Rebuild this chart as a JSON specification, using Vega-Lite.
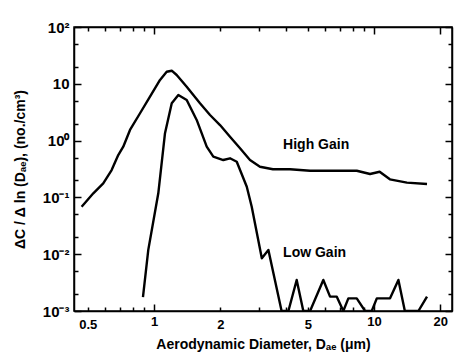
{
  "$schema": "https://vega.github.io/schema/vega-lite/v6.json",
  "width": 378,
  "height": 284,
  "autosize": {"type": "none"},
  "padding": {"left": 74, "top": 27, "right": 3, "bottom": 45},
  "background": "white",
  "config": {
    "view": {"stroke": "black", "strokeWidth": 1.5},
    "axis": {
      "domainColor": "black",
      "domainWidth": 1.5,
      "tickColor": "black",
      "tickWidth": 1.5,
      "grid": false,
      "labelFont": "Liberation Sans",
      "labelFontWeight": "bold",
      "labelFontSize": 13,
      "labelColor": "black",
      "titleFont": "Liberation Sans",
      "titleFontWeight": "bold",
      "titleFontSize": 14,
      "titleColor": "black"
    }
  },
  "datasets": {
    "curves": [
      {"series": "High", "d": 0.469, "c": 0.0686},
      {"series": "High", "d": 0.530, "c": 0.118},
      {"series": "High", "d": 0.588, "c": 0.177},
      {"series": "High", "d": 0.642, "c": 0.303},
      {"series": "High", "d": 0.688, "c": 0.557},
      {"series": "High", "d": 0.725, "c": 0.781},
      {"series": "High", "d": 0.778, "c": 1.54},
      {"series": "High", "d": 0.864, "c": 3.03},
      {"series": "High", "d": 0.959, "c": 5.93},
      {"series": "High", "d": 1.065, "c": 11.7},
      {"series": "High", "d": 1.142, "c": 16.3},
      {"series": "High", "d": 1.204, "c": 17.0},
      {"series": "High", "d": 1.268, "c": 14.3},
      {"series": "High", "d": 1.408, "c": 8.89},
      {"series": "High", "d": 1.618, "c": 4.54},
      {"series": "High", "d": 1.797, "c": 2.82},
      {"series": "High", "d": 1.995, "c": 1.88},
      {"series": "High", "d": 2.215, "c": 1.17},
      {"series": "High", "d": 2.46, "c": 0.731},
      {"series": "High", "d": 2.73, "c": 0.455},
      {"series": "High", "d": 3.03, "c": 0.347},
      {"series": "High", "d": 3.47, "c": 0.313},
      {"series": "High", "d": 4.15, "c": 0.313},
      {"series": "High", "d": 5.12, "c": 0.295},
      {"series": "High", "d": 6.31, "c": 0.295},
      {"series": "High", "d": 8.34, "c": 0.295},
      {"series": "High", "d": 9.59, "c": 0.258},
      {"series": "High", "d": 10.6, "c": 0.283},
      {"series": "High", "d": 11.8, "c": 0.208},
      {"series": "High", "d": 14.1, "c": 0.182},
      {"series": "High", "d": 17.4, "c": 0.172},
      {"series": "Low", "d": 0.891, "c": 0.00176},
      {"series": "Low", "d": 0.942, "c": 0.0119},
      {"series": "Low", "d": 1.046, "c": 0.118},
      {"series": "Low", "d": 1.122, "c": 1.35},
      {"series": "Low", "d": 1.204, "c": 4.54},
      {"series": "Low", "d": 1.29, "c": 6.35},
      {"series": "Low", "d": 1.408, "c": 5.19},
      {"series": "Low", "d": 1.563, "c": 2.31},
      {"series": "Low", "d": 1.736, "c": 0.781},
      {"series": "Low", "d": 1.86, "c": 0.521},
      {"series": "Low", "d": 2.065, "c": 0.455},
      {"series": "Low", "d": 2.215, "c": 0.488},
      {"series": "Low", "d": 2.377, "c": 0.425},
      {"series": "Low", "d": 2.64, "c": 0.154},
      {"series": "Low", "d": 2.78, "c": 0.0686},
      {"series": "Low", "d": 3.09, "c": 0.00847},
      {"series": "Low", "d": 3.31, "c": 0.0119},
      {"series": "Low", "d": 3.80, "c": 0.001},
      {"series": "Low", "d": 4.08, "c": 0.001},
      {"series": "Low", "d": 4.45, "c": 0.00352},
      {"series": "Low", "d": 4.77, "c": 0.001},
      {"series": "Low", "d": 5.12, "c": 0.001},
      {"series": "Low", "d": 5.88, "c": 0.00352},
      {"series": "Low", "d": 6.31, "c": 0.00179},
      {"series": "Low", "d": 6.77, "c": 0.00179},
      {"series": "Low", "d": 7.25, "c": 0.001},
      {"series": "Low", "d": 7.64, "c": 0.00167},
      {"series": "Low", "d": 8.34, "c": 0.00167},
      {"series": "Low", "d": 9.10, "c": 0.001},
      {"series": "Low", "d": 9.76, "c": 0.001},
      {"series": "Low", "d": 10.29, "c": 0.00167},
      {"series": "Low", "d": 11.82, "c": 0.00167},
      {"series": "Low", "d": 12.9, "c": 0.00352},
      {"series": "Low", "d": 13.8, "c": 0.001},
      {"series": "Low", "d": 15.9, "c": 0.001},
      {"series": "Low", "d": 17.4, "c": 0.00179}
    ],
    "labels": [
      {"label": "High Gain", "d": 3.86, "c": 0.837},
      {"label": "Low Gain", "d": 3.86, "c": 0.0105}
    ]
  },
  "layer": [
    {
      "data": {"name": "curves"},
      "mark": {"type": "line", "color": "black", "strokeWidth": 2.4, "clip": true, "strokeJoin": "round"},
      "encoding": {
        "x": {
          "field": "d", "type": "quantitative",
          "scale": {"type": "log", "domain": [0.433, 22.6], "nice": false},
          "axis": {
            "orient": "bottom",
            "values": [0.5, 0.6, 0.7, 0.8, 0.9, 1, 2, 3, 4, 5, 6, 7, 8, 9, 10, 20],
            "labelExpr": "(datum.value == 0.5 || datum.value == 1 || datum.value == 2 || datum.value == 5 || datum.value == 10 || datum.value == 20) ? datum.label : ''",
            "tickSize": {"condition": {"test": "datum.value == 1 || datum.value == 10 || datum.value == 20", "value": -7}, "value": -4},
            "labelPadding": 11,
            "labelFlush": false,
            "labelOverlap": false,
            "title": "Aerodynamic Diameter, Dₐₑ  (μm)",
            "titlePadding": 6
          }
        },
        "y": {
          "field": "c", "type": "quantitative",
          "scale": {"type": "log", "domain": [0.001, 100], "nice": false},
          "axis": {
            "orient": "left",
            "values": [0.001, 0.002, 0.005, 0.01, 0.02, 0.05, 0.1, 0.2, 0.5, 1, 2, 5, 10, 20, 50, 100],
            "labelExpr": "datum.value == 100 ? '10²' : datum.value == 10 ? '10' : datum.value == 1 ? '10⁰' : datum.value == 0.1 ? '10⁻¹' : datum.value == 0.01 ? '10⁻²' : datum.value == 0.001 ? '10⁻³' : ''",
            "tickSize": {"condition": {"test": "datum.value == 1 || datum.value == 10 || datum.value == 100 || datum.value == 0.1 || datum.value == 0.01 || datum.value == 0.001", "value": -7}, "value": -4},
            "labelPadding": 12,
            "labelFlush": false,
            "labelOverlap": false,
            "labelFontSize": 15,
            "title": "ΔC / Δ ln (Dₐₑ), (no./cm³)",
            "titlePadding": 15
          }
        },
        "detail": {"field": "series", "type": "nominal"}
      }
    },
    {
      "data": {"name": "labels"},
      "mark": {"type": "text", "align": "left", "baseline": "middle", "font": "Liberation Sans", "fontWeight": "bold", "fontSize": 14, "color": "black"},
      "encoding": {
        "x": {"field": "d", "type": "quantitative", "axis": null},
        "y": {"field": "c", "type": "quantitative", "axis": null},
        "text": {"field": "label"}
      }
    },
    {
      "data": {"name": "curves"},
      "mark": {"type": "line", "opacity": 0},
      "encoding": {
        "x": {
          "field": "d", "type": "quantitative",
          "axis": {
            "orient": "top",
            "values": [0.5, 0.6, 0.7, 0.8, 0.9, 1, 2, 3, 4, 5, 6, 7, 8, 9, 10, 20],
            "labels": false,
            "title": null,
            "tickSize": {"condition": {"test": "datum.value == 1 || datum.value == 10 || datum.value == 20", "value": -7}, "value": -4}
          }
        },
        "y": {
          "field": "c", "type": "quantitative",
          "axis": {
            "orient": "right",
            "values": [0.001, 0.002, 0.005, 0.01, 0.02, 0.05, 0.1, 0.2, 0.5, 1, 2, 5, 10, 20, 50, 100],
            "labels": false,
            "title": null,
            "tickSize": {"condition": {"test": "datum.value == 1 || datum.value == 10 || datum.value == 100 || datum.value == 0.1 || datum.value == 0.01 || datum.value == 0.001", "value": -7}, "value": -4}
          }
        },
        "detail": {"field": "series", "type": "nominal"}
      }
    }
  ],
  "resolve": {"axis": {"x": "independent", "y": "independent"}}
}
